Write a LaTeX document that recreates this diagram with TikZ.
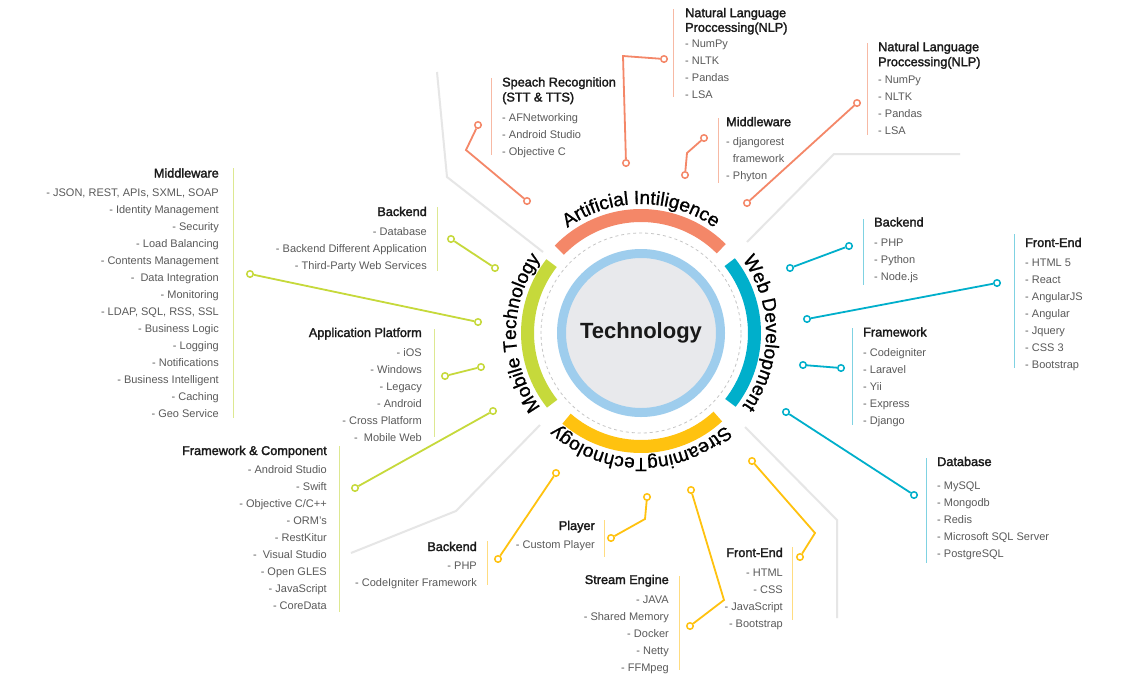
\documentclass[tikz,border=0pt]{standalone}
\usepackage{fontspec}
\setmainfont{Liberation Sans}
\newfontfamily\titlefam[FakeBold=2]{Liberation Sans}
\newfontfamily\curvefam[FakeBold=1]{Liberation Sans}
\usetikzlibrary{decorations.text,calc}
\definecolor{cai}{HTML}{F48768}
\definecolor{cweb}{HTML}{00AFCB}
\definecolor{cstr}{HTML}{FFC20F}
\definecolor{cmob}{HTML}{C6D93B}
\definecolor{caiL}{HTML}{F7B9A4}
\definecolor{cwebL}{HTML}{7FD2E2}
\definecolor{cstrL}{HTML}{FFDC80}
\definecolor{cmobL}{HTML}{DDE891}
\definecolor{ring}{HTML}{9ECDED}
\definecolor{disc}{HTML}{E8E9EC}
\definecolor{glc}{HTML}{E6E6E6}
\definecolor{itemgray}{HTML}{5A5A5A}
\definecolor{titlegray}{HTML}{1A1A1A}
\newcommand\curvef{\curvefam\fontsize{19}{22}\selectfont}
\tikzset{
  itm/.style={font=\fontsize{11}{13}\selectfont, text=itemgray, inner sep=0pt},
  ttl/.style={font=\titlefam\fontsize{12.7}{15}\selectfont, text=titlegray, inner sep=0pt},
  vline/.style={line width=1pt},
  conn/.style={line width=1.8pt},
  dot/.style={circle, draw, fill=white, line width=1.5pt, minimum size=6.5pt, inner sep=0pt},
  gline/.style={draw=glc, line width=2pt},
  bigarc/.style={line width=13pt},
}
\newcommand\blkL[4]{\foreach \tx [count=\k from 0] in {#4}{\node[itm,anchor=base west] (#1-\k) at (#2,{-(#3+4+17*\k)}) {\tx};}}
\newcommand\blkR[4]{\foreach \tx [count=\k from 0] in {#4}{\node[itm,anchor=base east] (#1-\k) at (#2,{-(#3+4+17*\k)}) {\tx};}}
\begin{document}
\begin{tikzpicture}[x=1pt,y=1pt]
\useasboundingbox (0,0) rectangle (1141,-697);
\fill[white] (0,0) rectangle (1141,-697);

% grey guide lines
\draw[gline] (437,-72) -- (447,-177) -- (543,-252);
\draw[gline] (960,-154) -- (834,-154) -- (747,-242);
\draw[gline] (745,-427) -- (837,-520) -- (837,-618);
\draw[gline] (351,-553) -- (456,-511) -- (540,-425);

% centre
\coordinate (c) at (641,-333);
\coordinate (aic) at (641,-329);
\draw[dashed, dash pattern=on 3pt off 3pt, draw=gray!45, line width=0.8pt] (c) circle[radius=100];
\node[circle, fill=disc, draw=ring, line width=9pt, minimum size=159pt, inner sep=0pt,
      font=\bfseries\fontsize{22}{26}\selectfont, text=black!90] (tech) at (c) {Technology};

% coloured arcs
\draw[bigarc, draw=cai] ($(aic)+(45:113.5)$) arc[start angle=45, end angle=136, radius=113.5];
\draw[bigarc, draw=cweb] ($(c)+(-38:113.5)$) arc[start angle=-38, end angle=38.6, radius=113.5];
\draw[bigarc, draw=cstr] ($(c)+(229:113.5)$) arc[start angle=229, end angle=312.6, radius=113.5];
\draw[bigarc, draw=cmob] ($(c)+(142:113.5)$) arc[start angle=142, end angle=218.5, radius=113.5];

% curved labels
\path[decorate, decoration={text along path, text align=center, text={|\curvef|Artificial Intiligence}}]
  ($(aic)+(180:125)$) arc[start angle=180, end angle=0, radius=125];
\path[decorate, decoration={text along path, text align=center, text={|\curvef|Web Development}}]
  ($(c)+(90:125)$) arc[start angle=90, end angle=-90, radius=125];
\path[decorate, decoration={text along path, text align=center, text={|\curvef|StreamingTechnology}}]
  ($(c)+(0:125)$) arc[start angle=0, end angle=-180, radius=125];
\path[decorate, decoration={text along path, text align=center, text={|\curvef|Mobile Technology}}]
  ($(c)+(270:125)$) arc[start angle=270, end angle=90, radius=125];

% ---------- Artificial Intelligence blocks ----------
\draw[vline, draw=caiL] (491,-78) -- (491,-155);
\node[ttl,anchor=base west] (sr-t1) at (502,-86.5) {Speach Recognition};
\node[ttl,anchor=base west] (sr-t2) at (502,-101.5) {(STT \& TTS)};
\blkL{sr}{502}{117}{- AFNetworking,- Android Studio,- Objective C}

\draw[vline, draw=caiL] (673,-9) -- (673,-97);
\node[ttl,anchor=base west] (nlpa-t1) at (685,-17.2) {Natural Language};
\node[ttl,anchor=base west] (nlpa-t2) at (685,-31.8) {Proccessing(NLP)};
\blkL{nlpa}{685}{43}{- NumPy,- NLTK,- Pandas,- LSA}

\draw[vline, draw=caiL] (718,-118) -- (718,-183);
\node[ttl,anchor=base west] (mwa-t) at (726,-126.2) {Middleware};
\blkL{mwa}{726}{141}{- djangorest,\phantom{- }framework,- Phyton}

\draw[vline, draw=caiL] (867,-43) -- (867,-135);
\node[ttl,anchor=base west] (nlpb-t1) at (878,-51.2) {Natural Language};
\node[ttl,anchor=base west] (nlpb-t2) at (878,-66.2) {Proccessing(NLP)};
\blkL{nlpb}{878}{79}{- NumPy,- NLTK,- Pandas,- LSA}

% ---------- Web Development blocks ----------
\draw[vline, draw=cwebL] (863,-219) -- (863,-285);
\node[ttl,anchor=base west] (wbe-t) at (874,-226.5) {Backend};
\blkL{wbe}{874}{242}{- PHP,- Python,- Node.js}

\draw[vline, draw=cwebL] (1014,-234) -- (1014,-368);
\node[ttl,anchor=base west] (wfe-t) at (1025,-247) {Front-End};
\blkL{wfe}{1025}{262}{- HTML 5,- React,- AngularJS,- Angular,- Jquery,- CSS 3,- Bootstrap}

\draw[vline, draw=cwebL] (852,-328) -- (852,-425);
\node[ttl,anchor=base west] (wfw-t) at (863,-336.5) {Framework};
\blkL{wfw}{863}{352}{- Codeigniter,- Laravel,- Yii,- Express,- Django}

\draw[vline, draw=cwebL] (926,-458) -- (926,-563);
\node[ttl,anchor=base west] (wdb-t) at (937,-466) {Database};
\blkL{wdb}{937}{485}{- MySQL,- Mongodb,- Redis,- Microsoft SQL Server,- PostgreSQL}

% ---------- Streaming Technology blocks ----------
\draw[vline, draw=cstrL] (487,-541) -- (487,-585);
\node[ttl,anchor=base east] (sbe-t) at (477,-551) {Backend};
\blkR{sbe}{477}{565}{- PHP,- CodeIgniter Framework}

\draw[vline, draw=cstrL] (604,-520) -- (604,-557);
\node[ttl,anchor=base east] (spl-t) at (595,-530) {Player};
\blkR{spl}{595}{544}{- Custom Player}

\draw[vline, draw=cstrL] (679,-576) -- (679,-670);
\node[ttl,anchor=base east] (sse-t) at (669,-584) {Stream Engine};
\blkR{sse}{669}{599}{- JAVA,- Shared Memory,- Docker,- Netty,- FFMpeg}

\draw[vline, draw=cstrL] (792,-547) -- (792,-620);
\node[ttl,anchor=base east] (sfe-t) at (783,-557) {Front-End};
\blkR{sfe}{783}{572}{- HTML,- CSS,- JavaScript,- Bootstrap}

% ---------- Mobile Technology blocks ----------
\draw[vline, draw=cmobL] (233,-168) -- (233,-418);
\node[ttl,anchor=base east] (mmw-t) at (219,-177.5) {Middleware};
\blkR{mmw}{219}{192}{{- JSON, REST, APIs, SXML, SOAP},- Identity Management,- Security,- Load Balancing,- Contents Management,- \ Data Integration,- Monitoring,{- LDAP, SQL, RSS, SSL},- Business Logic,- Logging,- Notifications,- Business Intelligent,- Caching,- Geo Service}

\draw[vline, draw=cmobL] (437,-207) -- (437,-271);
\node[ttl,anchor=base east] (mbe-t) at (427,-216) {Backend};
\blkR{mbe}{427}{231}{- Database,- Backend Different Application,- Third-Party Web Services}

\draw[vline, draw=cmobL] (434,-329) -- (434,-437);
\node[ttl,anchor=base east] (map-t) at (422,-337) {Application Platform};
\blkR{map}{422}{352}{- iOS,- Windows,- Legacy,- Android,- Cross Platform,- \ Mobile Web}

\draw[vline, draw=cmobL] (339,-446) -- (339,-612);
\node[ttl,anchor=base east] (mfc-t) at (327,-455) {Framework \& Component};
\blkR{mfc}{327}{469}{- Android Studio,- Swift,- Objective C/C++,- ORM’s,- RestKitur,- \ Visual Studio,- Open GLES,- JavaScript,- CoreData}

% ---------- connectors ----------
% AI
\node[dot, draw=cai] (a1s) at (478,-125) {};
\node[dot, draw=cai] (a1e) at (527,-201) {};
\coordinate (a1k) at (466,-150);
\node[dot, draw=cai] (a2s) at (664,-59) {};
\node[dot, draw=cai] (a2e) at (626,-163) {};
\coordinate (a2k) at (623,-56);
\node[dot, draw=cai] (a3s) at (704,-138) {};
\node[dot, draw=cai] (a3e) at (685,-175) {};
\coordinate (a3k) at (687,-153);
\node[dot, draw=cai] (a4s) at (857,-103) {};
\node[dot, draw=cai] (a4e) at (747,-203) {};
\draw[conn, draw=cai] (a1s) -- (a1k) -- (a1e);
\draw[conn, draw=cai] (a2s) -- (a2k) -- (a2e);
\draw[conn, draw=cai] (a3s) -- (a3k) -- (a3e);
\draw[conn, draw=cai] (a4s) -- (a4e);
% Web
\node[dot, draw=cweb] (w1s) at (849,-246) {};
\node[dot, draw=cweb] (w1e) at (790,-268) {};
\node[dot, draw=cweb] (w2s) at (997,-283) {};
\node[dot, draw=cweb] (w2e) at (807,-319) {};
\node[dot, draw=cweb] (w3s) at (841,-368) {};
\node[dot, draw=cweb] (w3e) at (803,-365) {};
\node[dot, draw=cweb] (w4s) at (914,-495) {};
\node[dot, draw=cweb] (w4e) at (786,-412) {};
\draw[conn, draw=cweb] (w1s) -- (w1e);
\draw[conn, draw=cweb] (w2s) -- (w2e);
\draw[conn, draw=cweb] (w3s) -- (w3e);
\draw[conn, draw=cweb] (w4s) -- (w4e);
% Streaming
\node[dot, draw=cstr] (s1s) at (498,-559) {};
\node[dot, draw=cstr] (s1e) at (556,-473) {};
\node[dot, draw=cstr] (s2s) at (611,-538) {};
\node[dot, draw=cstr] (s2e) at (647,-497) {};
\coordinate (s2k) at (645,-519);
\node[dot, draw=cstr] (s3s) at (690,-626) {};
\node[dot, draw=cstr] (s3e) at (691,-490) {};
\coordinate (s3k) at (724,-600);
\node[dot, draw=cstr] (s4s) at (800,-557) {};
\node[dot, draw=cstr] (s4e) at (752,-461) {};
\coordinate (s4k) at (815,-533);
\draw[conn, draw=cstr] (s1s) -- (s1e);
\draw[conn, draw=cstr] (s2s) -- (s2k) -- (s2e);
\draw[conn, draw=cstr] (s3s) -- (s3k) -- (s3e);
\draw[conn, draw=cstr] (s4s) -- (s4k) -- (s4e);
% Mobile
\node[dot, draw=cmob] (m1s) at (451,-239) {};
\node[dot, draw=cmob] (m1e) at (495,-268) {};
\node[dot, draw=cmob] (m2s) at (250,-274) {};
\node[dot, draw=cmob] (m2e) at (478,-322) {};
\node[dot, draw=cmob] (m3s) at (445,-376) {};
\node[dot, draw=cmob] (m3e) at (481,-367) {};
\node[dot, draw=cmob] (m4s) at (355,-488) {};
\node[dot, draw=cmob] (m4e) at (493,-411) {};
\draw[conn, draw=cmob] (m1s) -- (m1e);
\draw[conn, draw=cmob] (m2s) -- (m2e);
\draw[conn, draw=cmob] (m3s) -- (m3e);
\draw[conn, draw=cmob] (m4s) -- (m4e);
\end{tikzpicture}
\end{document}
